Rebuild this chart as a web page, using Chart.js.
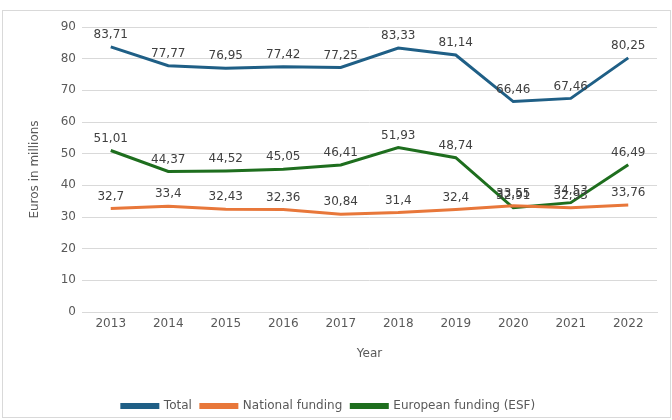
<!DOCTYPE html>
<html><head><meta charset="utf-8">
<script src="https://cdn.jsdelivr.net/npm/chart.js@4"></script>
<style>
html,body{margin:0;padding:0;background:#fff;}
#c{position:absolute;left:0;top:0;}
#frame{position:absolute;left:2px;top:10px;width:669px;height:408px;border:1px solid #d9d9d9;box-sizing:border-box;pointer-events:none;}
</style></head><body>
<canvas id="c" width="672" height="420" style="width:672px;height:420px"></canvas>
<div id="frame"></div>
<script>
const years = ['2013','2014','2015','2016','2017','2018','2019','2020','2021','2022'];
const total = [83.71,77.77,76.95,77.42,77.25,83.33,81.14,66.46,67.46,80.25];
const national = [32.7,33.4,32.43,32.36,30.84,31.4,32.4,33.55,32.93,33.76];
const european = [51.01,44.37,44.52,45.05,46.41,51.93,48.74,32.91,34.53,46.49];

const FONT = "'DejaVu Sans', sans-serif";
const TXT = '#595959';

const labelPlugin = {
  id:'lbls',
  afterDatasetsDraw(chart){
    const ctx = chart.ctx;
    ctx.save();
    ctx.font = "12px " + FONT;
    ctx.fillStyle = '#404040';
    ctx.textAlign = 'center';
    ctx.textBaseline = 'bottom';
    chart.data.datasets.forEach((ds,i)=>{
      const meta = chart.getDatasetMeta(i);
      meta.data.forEach((pt,j)=>{
        ctx.fillText(String(ds.data[j]).replace('.',','), pt.x, pt.y - 6);
      });
    });
    ctx.restore();
  }
};

new Chart(document.getElementById('c'),{
  type:'line',
  data:{labels:years,datasets:[
    {label:'Total',data:total,borderColor:'#1F5F86',backgroundColor:'#1F5F86',borderWidth:3,pointRadius:0,tension:0},
    {label:'National funding',data:national,borderColor:'#E8773A',backgroundColor:'#E8773A',borderWidth:3,pointRadius:0,tension:0},
    {label:'European funding (ESF)',data:european,borderColor:'#1E6E1E',backgroundColor:'#1E6E1E',borderWidth:3,pointRadius:0,tension:0}
  ]},
  options:{
    responsive:false,animation:false,devicePixelRatio:1,
    layout:{padding:{left:0,right:15,top:27,bottom:-2}},
    plugins:{
      legend:{position:'bottom',labels:{font:{family:FONT,size:12},color:TXT,boxWidth:36,boxHeight:3,padding:9}},
      tooltip:{enabled:false}
    },
    scales:{
      x:{offset:true,grid:{display:false},border:{color:'#d9d9d9'},ticks:{font:{family:FONT,size:12},color:TXT,padding:-3},
         afterFit(s){s.height=79;},
         title:{display:true,text:'Year',font:{family:FONT,size:12},color:TXT,padding:{top:0,bottom:30}}},
      y:{min:0,max:90,ticks:{stepSize:10,font:{family:FONT,size:12},color:TXT,padding:6},
         grid:{color:'#d9d9d9',drawTicks:false},border:{display:false},
         afterFit(s){s.width=82;},
         title:{display:true,text:'Euros in millions',font:{family:FONT,size:12},color:TXT,padding:{top:28,bottom:0}}}
    }
  },
  plugins:[labelPlugin]
});
</script></body></html>
